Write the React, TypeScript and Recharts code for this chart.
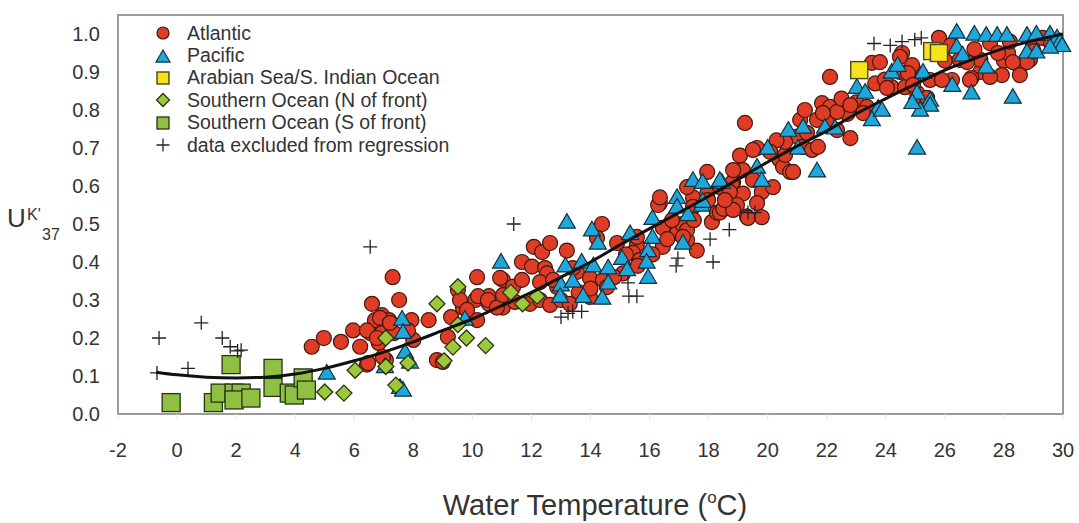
import { ScatterChart, Scatter, XAxis, YAxis, ReferenceArea, Legend } from "recharts";

const FONT = '"Liberation Sans", Arial, sans-serif';
const INK = "#333";

const xTicks = [-2, 0, 2, 4, 6, 8, 10, 12, 14, 16, 18, 20, 22, 24, 26, 28, 30];
const yTicks = [0, 0.1, 0.2, 0.3, 0.4, 0.5, 0.6, 0.7, 0.8, 0.9, 1.0];

// [water temperature, UK'37]
const atlantic = [
  [4.56, 0.177], [4.97, 0.2], [5.55, 0.19], [5.96, 0.22], [6.2, 0.177], [6.43, 0.13], [6.6, 0.29], [6.54, 0.213],
  [6.7, 0.247], [6.94, 0.26], [6.94, 0.213], [7.18, 0.247], [7.3, 0.36], [7.52, 0.3], [7.35, 0.213], [6.83, 0.187],
  [7.07, 0.142], [7.94, 0.247], [8.0, 0.195], [8.52, 0.247], [8.8, 0.142], [9.17, 0.203], [9.28, 0.255], [9.51, 0.326],
  [9.68, 0.28], [10.16, 0.36], [10.16, 0.247], [10.1, 0.3], [10.56, 0.31], [10.56, 0.29], [11.03, 0.28], [11.03, 0.353],
  [11.38, 0.335], [11.68, 0.4], [11.68, 0.353], [12.08, 0.44], [11.95, 0.29], [12.02, 0.388], [6.97, 0.15], [9.0, 0.137],
  [6.43, 0.22], [6.87, 0.253], [6.77, 0.2], [7.21, 0.24], [7.82, 0.22], [6.47, 0.134], [9.58, 0.3], [9.82, 0.274],
  [10.19, 0.31], [10.53, 0.3], [10.83, 0.28], [10.94, 0.358], [11.04, 0.313], [11.44, 0.295], [12.36, 0.426], [12.63, 0.45],
  [12.46, 0.384], [12.53, 0.358], [12.29, 0.3], [12.63, 0.287], [13.2, 0.43], [12.87, 0.334], [13.54, 0.374],
  [14.39, 0.5], [12.53, 0.37], [12.29, 0.347], [13.98, 0.358], [14.42, 0.353], [14.9, 0.45], [15.57, 0.445], [15.44, 0.424],
  [15.67, 0.405], [16.35, 0.555], [16.45, 0.44], [16.59, 0.49], [16.93, 0.476], [17.1, 0.5], [17.6, 0.43], [17.27, 0.458],
  [17.47, 0.57], [18.11, 0.505], [18.28, 0.53], [17.95, 0.58], [18.62, 0.563], [18.83, 0.61], [19.06, 0.64], [19.3, 0.52],
  [19.06, 0.68], [19.16, 0.58], [12.73, 0.353], [13.4, 0.384], [14.22, 0.463], [15.57, 0.466], [16.29, 0.55], [16.45, 0.49],
  [16.76, 0.51], [17.27, 0.484], [17.13, 0.466], [17.47, 0.545], [17.98, 0.563], [18.38, 0.53], [18.96, 0.55], [18.79, 0.608],
  [19.33, 0.516], [19.16, 0.642], [19.64, 0.7], [17.95, 0.637], [17.27, 0.597], [16.35, 0.57],
  [13.98, 0.308], [14.56, 0.334], [13.0, 0.3], [13.6, 0.32], [15.1, 0.37], [15.6, 0.39], [16.1, 0.42],
  [13.3, 0.29], [14.0, 0.33], [14.8, 0.36], [15.2, 0.42], [16.6, 0.46], [17.5, 0.51], [18.5, 0.54], [20.4, 0.67],
  [21.0, 0.73], [22.0, 0.77], [22.7, 0.79], [23.0, 0.82], [24.2, 0.86], [25.0, 0.9], [26.0, 0.93], [27.2, 0.9], [28.0, 0.93],
  [19.23, 0.766], [22.11, 0.887], [23.53, 0.924], [18.38, 0.597], [18.72, 0.584], [19.5, 0.616], [19.8, 0.584], [20.18, 0.597],
  [18.83, 0.537], [19.64, 0.555], [19.5, 0.695], [18.83, 0.642], [18.55, 0.563], [20.52, 0.65], [20.59, 0.682], [20.76, 0.637],
  [21.2, 0.703], [21.33, 0.74], [21.5, 0.695], [21.7, 0.703], [21.84, 0.818], [22.11, 0.808], [22.35, 0.795], [22.5, 0.83],
  [22.8, 0.813], [22.8, 0.726], [22.35, 0.747], [21.67, 0.774], [21.1, 0.774], [21.26, 0.8], [21.87, 0.792], [20.59, 0.716],
  [20.3, 0.72], [20.08, 0.69], [20.86, 0.637], [23.36, 0.808], [23.64, 0.87], [23.97, 0.88], [24.48, 0.9], [24.55, 0.95],
  [24.89, 0.918], [24.92, 0.88], [24.65, 0.86], [23.23, 0.792], [19.8, 0.518],
  [25.8, 0.99], [28.14, 0.95], [28.54, 0.913], [27.93, 0.892], [26.9, 0.884], [27.53, 0.887], [28.88, 0.932], [28.98, 0.976],
  [27.53, 0.976], [27.2, 0.932], [26.5, 0.932], [26.24, 0.879], [25.5, 0.879], [25.06, 0.845], [25.26, 0.826], [24.75, 0.897],
  [24.48, 0.94], [23.8, 0.926], [24.04, 0.858], [24.92, 0.866], [25.4, 0.832], [25.9, 0.879], [26.75, 0.926], [26.85, 0.879],
  [28.78, 0.926], [28.3, 0.926], [28.2, 0.98], [28.54, 0.892], [29.3, 0.99], [29.6, 0.975], [26.2, 0.97], [27.0, 0.96],
  [27.8, 0.95], [29.0, 0.955],
];

const pacific = [
  [5.07, 0.108], [7.62, 0.25], [7.65, 0.215], [7.72, 0.163], [7.89, 0.137], [7.55, 0.07], [7.65, 0.063], [7.04, 0.125],
  [10.97, 0.4], [9.75, 0.25], [13.2, 0.505], [13.15, 0.39], [13.0, 0.34], [13.4, 0.35], [12.97, 0.31],
  [14.05, 0.485], [14.25, 0.45], [13.7, 0.4], [13.75, 0.31], [14.1, 0.39], [14.6, 0.385], [14.6, 0.345], [14.4, 0.305],
  [15.07, 0.41], [15.24, 0.38], [15.34, 0.475], [16.1, 0.465], [15.95, 0.43], [15.9, 0.4], [15.95, 0.36], [16.1, 0.515],
  [16.93, 0.57], [17.13, 0.45], [17.47, 0.615], [17.8, 0.61], [18.45, 0.61], [16.93, 0.545], [17.77, 0.55], [17.3, 0.525],
  [17.8, 0.56], [19.64, 0.65], [18.38, 0.615], [20.0, 0.7], [19.8, 0.615], [20.7, 0.747], [21.2, 0.755], [21.03, 0.7],
  [21.67, 0.64], [21.94, 0.755], [22.28, 0.753], [23.02, 0.86], [23.3, 0.847], [23.74, 0.805], [23.53, 0.775], [24.2, 0.9],
  [24.4, 0.918], [25.06, 0.845], [23.87, 0.8], [25.26, 0.9], [25.5, 0.826], [25.5, 0.813], [26.4, 1.005], [27.0, 1.0],
  [26.4, 0.966], [26.6, 0.945], [26.25, 0.865], [26.9, 0.845], [27.4, 0.997], [27.77, 0.997], [28.1, 0.997], [27.4, 0.913],
  [28.3, 0.834], [28.78, 0.997], [29.1, 1.0], [28.78, 0.953], [29.1, 0.953], [29.56, 1.0], [29.8, 0.99], [29.9, 0.98],
  [29.97, 0.97], [29.56, 0.966], [25.06, 0.7], [25.16, 0.8], [24.9, 0.82],
];

const arabian = [[23.1, 0.905], [25.57, 0.955], [25.8, 0.95]];

const southernN = [
  [5.0, 0.058], [5.65, 0.055], [6.03, 0.115], [7.07, 0.2], [7.07, 0.125], [7.41, 0.076], [7.82, 0.134], [8.8, 0.29],
  [9.04, 0.14], [9.34, 0.176], [9.51, 0.335], [9.51, 0.235], [9.8, 0.2], [10.45, 0.18], [11.3, 0.32], [11.7, 0.29], [12.19, 0.31],
];

const southernS = [
  [-0.2, 0.03], [1.83, 0.13], [1.23, 0.03], [1.46, 0.055], [1.93, 0.055], [2.17, 0.055], [1.93, 0.037], [2.5, 0.042],
  [3.25, 0.12], [3.25, 0.07], [3.8, 0.055], [3.97, 0.05], [4.27, 0.095], [4.38, 0.063],
];

const excluded = [
  [-0.61, 0.2], [-0.68, 0.108], [0.37, 0.12], [0.82, 0.24], [1.53, 0.2], [1.8, 0.177], [2.05, 0.166], [2.17, 0.168],
  [6.54, 0.44], [11.4, 0.5], [13.0, 0.255], [13.24, 0.265], [13.4, 0.27], [13.7, 0.27], [15.3, 0.31], [15.57, 0.31],
  [15.27, 0.345], [16.9, 0.39], [16.96, 0.41], [18.15, 0.4], [18.7, 0.485], [18.05, 0.46], [19.33, 0.53], [19.57, 0.53],
  [23.6, 0.975], [24.15, 0.97], [24.55, 0.98], [24.98, 0.985], [25.2, 0.99],
];

// regression curve
const regression = [
  [-0.7, 0.11], [0, 0.103], [1, 0.097], [2, 0.095], [3, 0.097], [4, 0.105], [5, 0.12], [6, 0.14], [7, 0.163], [8, 0.19],
  [9, 0.22], [10, 0.25], [11, 0.285], [12, 0.32], [13, 0.36], [14, 0.4], [15, 0.445], [16, 0.488], [17, 0.53], [18, 0.573],
  [19, 0.618], [20, 0.663], [21, 0.705], [22, 0.745], [23, 0.79], [24, 0.83], [25, 0.868], [26, 0.905], [27, 0.935],
  [28, 0.962], [29, 0.983], [30, 1.0],
];

const pts = (arr: number[][]) => arr.map(([t, u]) => ({ t, u }));

const RedCircle = ({ cx, cy, r = 7.5 }: any) => (
  <circle cx={cx} cy={cy} r={r} fill="#e03b24" stroke="#3d1a12" strokeWidth={1.2} />
);
const BlueTriangle = ({ cx, cy, s = 8.5 }: any) => (
  <polygon
    points={`${cx},${cy - s} ${cx + s},${cy + s * 0.72} ${cx - s},${cy + s * 0.72}`}
    fill="#1fa6da"
    stroke="#15303c"
    strokeWidth={1.2}
  />
);
const YellowSquare = ({ cx, cy, s = 8.5 }: any) => (
  <rect x={cx - s} y={cy - s} width={s * 2} height={s * 2} fill="#f6e31c" stroke="#4a4720" strokeWidth={1.4} />
);
const GreenDiamond = ({ cx, cy, s = 8 }: any) => (
  <polygon
    points={`${cx},${cy - s} ${cx + s},${cy} ${cx},${cy + s} ${cx - s},${cy}`}
    fill="#9cc83a"
    stroke="#263410"
    strokeWidth={1.3}
  />
);
const GreenSquare = ({ cx, cy, s = 9 }: any) => (
  <rect x={cx - s} y={cy - s} width={s * 2} height={s * 2} fill="#8fc043" stroke="#263410" strokeWidth={1.3} />
);
const Plus = ({ cx, cy, s = 7 }: any) => (
  <path d={`M${cx - s},${cy}H${cx + s}M${cx},${cy - s}V${cy + s}`} stroke="#222" strokeWidth={1.3} fill="none" />
);
const Nothing = () => <g />;

const legendItems = [
  { name: "Atlantic", icon: <RedCircle cx={10} cy={10} r={6} /> },
  { name: "Pacific", icon: <BlueTriangle cx={10} cy={11} s={7} /> },
  { name: "Arabian Sea/S. Indian Ocean", icon: <YellowSquare cx={10} cy={10} s={6} /> },
  { name: "Southern Ocean (N of front)", icon: <GreenDiamond cx={10} cy={10} s={6.5} /> },
  { name: "Southern Ocean (S of front)", icon: <GreenSquare cx={10} cy={10} s={6} /> },
  { name: "data excluded from regression", icon: <Plus cx={10} cy={10} s={6.5} /> },
];

const LegendBox = () => (
  <div style={{ fontFamily: FONT, fontSize: 19.5, color: INK }}>
    {legendItems.map((it) => (
      <div key={it.name} style={{ display: "flex", alignItems: "center", height: 22.4, whiteSpace: "nowrap" }}>
        <svg width={20} height={20} style={{ marginRight: 14 }}>
          {it.icon}
        </svg>
        <span>{it.name}</span>
      </div>
    ))}
  </div>
);

const YTitle = () => (
  <text fontFamily={FONT} fill={INK}>
    <tspan x={7} y={227} fontSize={26}>U</tspan>
    <tspan x={27} y={220} fontSize={16}>K'</tspan>
    <tspan x={42} y={240} fontSize={16}>37</tspan>
  </text>
);

const XTitle = () => (
  <text x={595} y={515} textAnchor="middle" fontFamily={FONT} fill={INK} fontSize={29}>
    Water Temperature (<tspan fontSize={17} dy={-12}>o</tspan>
    <tspan dy={12}>C)</tspan>
  </text>
);

export default function App() {
  return (
    <div style={{ position: "absolute", left: 0, top: 0, width: 1079, height: 523, background: "#fff" }}>
      <ScatterChart width={1079} height={523} margin={{ top: 15, right: 16, bottom: 59, left: 58 }}>
        <XAxis
          type="number"
          dataKey="t"
          domain={[-2, 30]}
          ticks={xTicks}
          height={50}
          axisLine={false}
          tickLine={{ stroke: "#e4e4e4" }}
          tickSize={6}
          tickMargin={23}
          tick={{ fill: INK, fontSize: 20, fontFamily: FONT }}
          label={{ content: XTitle }}
        />
        <YAxis
          type="number"
          dataKey="u"
          domain={[0, 1.05]}
          ticks={yTicks}
          width={60}
          axisLine={false}
          tickLine={false}
          tickSize={6}
          tickMargin={12}
          tickFormatter={(v: number) => v.toFixed(1)}
          tick={{ fill: INK, fontSize: 20, fontFamily: FONT }}
          label={{ content: YTitle }}
        />
        <ReferenceArea x1={-2} x2={30} y1={0} y2={1.05} fill="none" stroke="#9a9a9a" strokeWidth={2} />
        <Legend
          layout="vertical"
          align="center"
          verticalAlign="middle"
          wrapperStyle={{ left: 153, top: 22, width: 380, height: 140 }}
          content={() => <LegendBox />}
        />
        <Scatter name="Atlantic" data={pts(atlantic)} shape={RedCircle} isAnimationActive={false} />
        <Scatter name="Pacific" data={pts(pacific)} shape={BlueTriangle} isAnimationActive={false} />
        <Scatter name="Arabian Sea/S. Indian Ocean" data={pts(arabian)} shape={YellowSquare} isAnimationActive={false} />
        <Scatter name="Southern Ocean (N of front)" data={pts(southernN)} shape={GreenDiamond} isAnimationActive={false} />
        <Scatter name="Southern Ocean (S of front)" data={pts(southernS)} shape={GreenSquare} isAnimationActive={false} />
        <Scatter name="data excluded from regression" data={pts(excluded)} shape={Plus} isAnimationActive={false} />
        <Scatter
          name="regression"
          data={pts(regression)}
          shape={Nothing}
          line={{ stroke: "#111", strokeWidth: 3 }}
          lineJointType="monotoneX"
          isAnimationActive={false}
        />
      </ScatterChart>
    </div>
  );
}
